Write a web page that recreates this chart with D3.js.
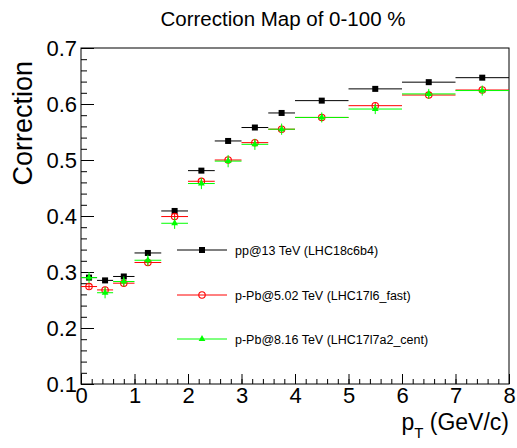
<!DOCTYPE html>
<html>
<head>
<meta charset="utf-8">
<script src="https://cdn.jsdelivr.net/npm/d3@7"></script>
<style>
	body { margin: 0; background: #fff; }
	svg { display: block; font-family: "Liberation Sans", Arial, sans-serif; }
</style>
</head>
<body>
<div class="js-graph"></div>
<script>
// bin edges in pT (GeV/c), points sit at bin centres
var binEdges = [0, 0.3, 0.6, 1, 1.5, 2, 2.5, 3, 3.5, 4, 5, 6, 7, 8];

var pp13 = [0.290, 0.285, 0.292, 0.334, 0.409, 0.481, 0.534, 0.558, 0.584, 0.606, 0.627, 0.639, 0.647];
var pp13Err = [0.003, 0.003, 0.003, 0.003, 0.003, 0.003, 0.003, 0.003, 0.003, 0.003, 0.003, 0.003, 0.003];

var pPb502 = [0.274, 0.268, 0.280, 0.317, 0.399, 0.462, 0.500, 0.531, 0.555, 0.576, 0.597, 0.616, 0.625];
var pPb502Err = [0.005, 0.005, 0.005, 0.005, 0.005, 0.005, 0.005, 0.005, 0.005, 0.005, 0.005, 0.005, 0.005];

var pPb816 = [0.290, 0.263, 0.283, 0.321, 0.387, 0.458, 0.498, 0.528, 0.555, 0.576, 0.591, 0.618, 0.624];
var pPb816Err = [0.010, 0.010, 0.009, 0.010, 0.010, 0.010, 0.011, 0.010, 0.010, 0.009, 0.009, 0.009, 0.009];

var seriesNames = ['pp@13 TeV (LHC18c6b4)', 'p-Pb@5.02 TeV (LHC17l6_fast)', 'p-Pb@8.16 TeV (LHC17l7a2_cent)'];
var xTicks = [0, 1, 2, 3, 4, 5, 6, 7, 8];
var yTicks = [0.1, 0.2, 0.3, 0.4, 0.5, 0.6, 0.7];

(function(d3) {
	var W = 517, H = 448,
		left = 81, right = 509, top = 48, bottom = 384;

	var svg = d3.select('.js-graph').append('svg')
		.attr('width', W).attr('height', H);

	var x = d3.scaleLinear().domain([0, 8]).range([left, right]);
	var y = d3.scaleLinear().domain([0.1, 0.7]).range([bottom, top]);

	// title
	svg.append('text')
		.attr('x', 283).attr('y', 26)
		.attr('text-anchor', 'middle')
		.style('font-size', '20.5px')
		.text('Correction Map of 0-100 %');

	// frame
	svg.append('rect')
		.attr('x', left).attr('y', top)
		.attr('width', right - left).attr('height', bottom - top)
		.attr('fill', 'none').attr('stroke', '#000').attr('stroke-width', 1);

	// y axis, ticks inside
	var yMinor = d3.range(0.1, 0.7001, 0.02);
	svg.append('g').attr('transform', 'translate(' + left + ',0)')
		.call(d3.axisLeft(y).tickValues(yMinor).tickSize(-6).tickSizeOuter(0).tickFormat(''))
		.call(function(g) { g.select('.domain').remove(); });
	svg.append('g').attr('transform', 'translate(' + left + ',0)')
		.call(d3.axisLeft(y).tickValues(yTicks).tickSize(-13).tickSizeOuter(0).tickPadding(4)
			.tickFormat(d3.format('.1f')))
		.call(function(g) {
			g.select('.domain').remove();
			g.selectAll('text').style('font-size', '22px').attr('font-family', null).attr('dy', '0.36em');
		});

	// x axis, ticks inside
	var xMinor = d3.range(0, 8.001, 0.2);
	svg.append('g').attr('transform', 'translate(0,' + bottom + ')')
		.call(d3.axisBottom(x).tickValues(xMinor).tickSize(-5).tickSizeOuter(0).tickFormat(''))
		.call(function(g) { g.select('.domain').remove(); });
	svg.append('g').attr('transform', 'translate(0,' + bottom + ')')
		.call(d3.axisBottom(x).tickValues(xTicks).tickSize(-10).tickSizeOuter(0).tickPadding(4)
			.tickFormat(d3.format('d')))
		.call(function(g) {
			g.select('.domain').remove();
			g.selectAll('text').style('font-size', '22px').attr('font-family', null).attr('dy', '0.7em');
		});

	svg.selectAll('.tick line').attr('stroke', '#000');

	// axis titles
	svg.append('text')
		.attr('transform', 'translate(32,61) rotate(-90)')
		.attr('text-anchor', 'end')
		.style('font-size', '27px')
		.text('Correction');

	var xt = svg.append('text')
		.attr('x', right).attr('y', 430)
		.attr('text-anchor', 'end')
		.style('font-size', '23px');
	xt.append('tspan').text('p');
	xt.append('tspan').attr('dy', 8).style('font-size', '15px').text('T');
	xt.append('tspan').attr('dy', -8).text(' (GeV/c)');

	var series = [
		{ name: seriesNames[0], values: pp13, errs: pp13Err, color: '#000', marker: 'square' },
		{ name: seriesNames[1], values: pPb502, errs: pPb502Err, color: '#ff0000', marker: 'circle' },
		{ name: seriesNames[2], values: pPb816, errs: pPb816Err, color: '#00ff00', marker: 'triangle' }
	];

	function drawMarker(g, type, color) {
		if (type === 'square') {
			g.append('rect').attr('x', -3).attr('y', -3).attr('width', 6).attr('height', 6).attr('fill', color);
		} else if (type === 'circle') {
			g.append('circle').attr('r', 3.2).attr('fill', 'none').attr('stroke', color).attr('stroke-width', 1.1);
		} else {
			g.append('path').attr('d', d3.symbol().type(d3.symbolTriangle).size(20)).attr('fill', color);
		}
	}

	series.forEach(function(s) {
		var pts = s.values.map(function(v, i) {
			return { x0: binEdges[i], x1: binEdges[i + 1], xc: (binEdges[i] + binEdges[i + 1]) / 2, v: v, e: s.errs[i] };
		});
		var g = svg.append('g');
		g.selectAll('line.h').data(pts).enter().append('line')
			.attr('x1', function(d) { return x(d.x0); })
			.attr('x2', function(d) { return x(d.x1); })
			.attr('y1', function(d) { return y(d.v); })
			.attr('y2', function(d) { return y(d.v); })
			.attr('stroke', s.color).attr('stroke-width', 1);
		g.selectAll('line.v').data(pts).enter().append('line')
			.attr('x1', function(d) { return x(d.xc); })
			.attr('x2', function(d) { return x(d.xc); })
			.attr('y1', function(d) { return y(d.v - d.e); })
			.attr('y2', function(d) { return y(d.v + d.e); })
			.attr('stroke', s.color).attr('stroke-width', 1);
		g.selectAll('g.m').data(pts).enter().append('g')
			.attr('transform', function(d) { return 'translate(' + x(d.xc) + ',' + y(d.v) + ')'; })
			.each(function() { drawMarker(d3.select(this), s.marker, s.color); });
	});

	// legend
	var legendY = [250, 295, 339];
	series.forEach(function(s, i) {
		var lg = svg.append('g').attr('transform', 'translate(0,' + legendY[i] + ')');
		lg.append('line').attr('x1', 177).attr('x2', 227).attr('y1', 0).attr('y2', 0)
			.attr('stroke', s.color).attr('stroke-width', 1);
		drawMarker(lg.append('g').attr('transform', 'translate(202,0)'), s.marker, s.color);
		lg.append('text').attr('x', 235).attr('y', 4.5)
			.style('font-size', '12.5px').text(s.name);
	});
})(d3);
</script>
</body>
</html>
